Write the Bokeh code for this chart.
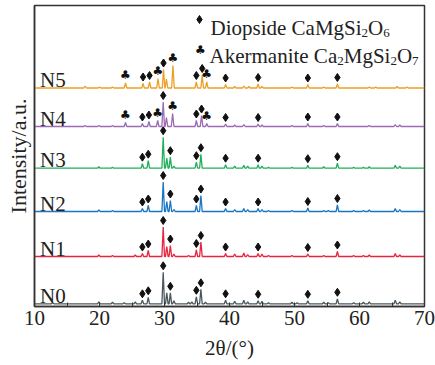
import numpy as np
from bokeh.plotting import figure
from bokeh.models import Range1d, FixedTicker
from bokeh.embed import file_html
from bokeh.resources import INLINE
from bokeh.core.properties import value

# ---------------- data ----------------
names = ["N0", "N1", "N2", "N3", "N4", "N5"]
offsets = [2.7, 50.0, 95.0, 138.3, 180.0, 218.5]
colors = ["#4a575c", "#e8253f", "#1b75c2", "#22ad5c", "#9b6bb5", "#eba128"]

n0_pos = [12.8, 19.9, 22.0, 23.8, 25.5, 26.6, 27.5, 29.8, 30.35, 30.9, 31.45, 33.7, 34.2, 34.9, 35.6, 36.3,
          39.4, 40.8, 42.2, 42.8, 44.4, 45.0, 46.0, 49.6, 50.4, 52.05, 54.5, 55.2, 56.6, 59.1, 60.6, 61.5, 65.5, 66.2]
n0_h = [1.0, 2.0, 1.5, 1.0, 2.0, 3.5, 6.5, 31.5, 11.0, 11.0, 3.0, 1.5, 2.0, 7.0, 14.5, 1.5,
        3.5, 2.5, 3.5, 2.0, 3.0, 2.5, 1.0, 1.5, 1.0, 3.0, 1.5, 1.0, 5.0, 1.0, 1.5, 2.0, 3.5, 2.0]

n1_pos = [19.9, 22.0, 25.5, 26.6, 27.5, 29.8, 30.35, 30.9, 31.45, 33.7, 34.9, 35.6, 39.4, 40.8, 42.2, 42.8,
          44.4, 45.0, 46.0, 49.6, 52.05, 54.5, 56.6, 59.1, 60.6, 61.5, 65.5, 66.2]
n1_h = [1.5, 1.0, 1.5, 3.0, 6.0, 29.5, 10.0, 11.0, 2.5, 1.0, 6.5, 14.5, 3.0, 2.5, 3.5, 2.0,
        3.0, 2.5, 1.0, 1.0, 2.5, 1.0, 5.0, 1.0, 1.0, 1.5, 3.0, 1.5]

n2_pos = [19.9, 22.0, 26.6, 27.5, 29.8, 30.35, 30.9, 31.45, 34.9, 35.6, 39.4, 40.8, 42.2, 42.8, 44.4, 45.0,
          46.0, 49.6, 52.05, 54.5, 55.2, 56.6, 59.1, 60.6, 61.5, 65.5, 66.2]
n2_h = [1.5, 1.0, 3.0, 6.0, 29.5, 10.0, 11.0, 2.0, 6.0, 16.0, 3.0, 2.0, 3.0, 2.0, 3.0, 2.0,
        1.0, 1.0, 3.5, 1.0, 1.0, 6.5, 1.0, 1.0, 1.5, 3.0, 2.0]

n3_pos = [19.9, 22.0, 26.6, 27.5, 29.8, 30.35, 30.9, 31.45, 34.9, 35.6, 39.4, 40.8, 42.2, 42.8, 44.4, 45.0,
          46.0, 49.6, 52.05, 54.5, 56.6, 59.1, 60.6, 61.5, 65.5, 66.2]
n3_h = [1.5, 1.0, 4.5, 7.5, 31.0, 10.0, 11.0, 2.0, 6.0, 14.0, 3.5, 2.0, 3.0, 2.0, 3.5, 2.0,
        1.0, 1.0, 3.0, 1.5, 5.0, 1.0, 1.0, 1.5, 3.0, 2.0]

n4_pos = [17.8, 19.9, 22.0, 24.0, 26.6, 27.6, 28.95, 29.8, 30.3, 31.25, 34.9, 35.7, 36.5, 39.4, 40.8, 42.2,
          44.4, 45.0, 49.6, 52.05, 54.5, 56.6, 61.5, 65.5, 66.2]
n4_h = [1.0, 1.0, 1.0, 4.0, 3.0, 5.0, 6.0, 24.5, 9.0, 13.0, 6.0, 11.0, 3.0, 2.5, 1.5, 2.0,
        2.5, 1.5, 1.0, 3.0, 1.0, 3.0, 1.0, 2.0, 1.5]

n5_pos = [17.8, 20.0, 22.0, 24.0, 26.7, 27.7, 29.0, 29.85, 30.3, 31.3, 34.9, 35.8, 36.5, 39.4, 40.8, 42.2,
          43.0, 44.4, 45.0, 49.6, 52.05, 54.5, 56.6, 61.5, 62.5, 65.8, 67.3]
n5_h = [2.0, 1.0, 1.0, 5.0, 4.5, 6.0, 9.5, 18.5, 9.0, 22.5, 6.0, 13.0, 6.0, 3.5, 1.5, 2.0,
        1.5, 4.0, 1.5, 1.0, 3.5, 1.0, 4.0, 1.0, 1.0, 1.5, 1.0]

diop_n0_n3 = [26.6, 27.5, 29.8, 30.9, 34.9, 35.6, 39.4, 44.4, 52.05, 56.6]
diop_n4 = [26.6, 27.6, 29.8, 34.9, 35.7, 39.4, 44.4, 52.05, 56.6]
diop_n5 = [26.7, 27.7, 29.85, 34.9, 35.8, 39.4, 44.4, 52.05, 56.6]
aker_n4 = [24.0, 28.95, 31.25, 36.5]
aker_n5 = [24.0, 29.0, 31.3, 36.5]

x_ticks = [10, 20, 30, 40, 50, 60, 70]
x_minor = [15, 25, 35, 45, 55, 65]

peaks = [(n0_pos, n0_h), (n1_pos, n1_h), (n2_pos, n2_h), (n3_pos, n3_h), (n4_pos, n4_h), (n5_pos, n5_h)]
diop = [diop_n0_n3, diop_n0_n3, diop_n0_n3, diop_n0_n3, diop_n4, diop_n5]
aker = [[], [], [], [], aker_n4, aker_n5]

# ---------------- figure ----------------
W, H = 435, 365
L, R, T, B = 34, 11, 5, 59
XMIN, XMAX = 10, 70
YMAX = H - T - B
sx = (W - L - R) / (XMAX - XMIN)
SERIF_CSS = "'Liberation Serif', 'Times New Roman', serif"


def px2x(px):
    return XMIN + (px - L) / sx


def py2y(py):
    return (H - B) - py


p = figure(width=W, height=H, output_backend="svg", toolbar_location=None,
           x_range=Range1d(XMIN, XMAX), y_range=Range1d(0, YMAX),
           min_border_left=L, min_border_right=R,
           min_border_top=T, min_border_bottom=B)
p.xgrid.visible = False
p.ygrid.visible = False
p.outline_line_color = "#333333"
p.outline_line_width = 1.5
p.background_fill_color = "white"
p.border_fill_color = "white"

ax = p.xaxis[0]
ax.ticker = FixedTicker(ticks=x_ticks, minor_ticks=x_minor)
ax.axis_line_color = "#333333"
ax.axis_line_width = 1.5
ax.major_tick_in = 4
ax.major_tick_out = 0
ax.minor_tick_in = 4
ax.minor_tick_out = 0
ax.major_tick_line_color = "#333333"
ax.minor_tick_line_color = "#333333"
ax.major_label_text_font = SERIF_CSS
ax.major_label_text_font_size = "21px"
ax.major_label_text_color = "#222222"
ax.major_label_standoff = 4
ax.axis_label = "2\u03b8/(\u00b0)"
ax.axis_label_text_font = SERIF_CSS
ax.axis_label_text_font_size = "21px"
ax.axis_label_text_font_style = "normal"
ax.axis_label_text_color = "#222222"
ax.axis_label_standoff = 8

ay = p.yaxis[0]
ay.ticker = FixedTicker(ticks=[])
ay.axis_line_color = "#333333"
ay.axis_line_width = 1.5
ay.major_tick_in = 0
ay.major_tick_out = 0
ay.minor_tick_in = 0
ay.minor_tick_out = 0
ay.major_label_standoff = 0
ay.axis_label = "Intensity/a.u."
ay.axis_label_text_font = SERIF_CSS
ay.axis_label_text_font_size = "22px"
ay.axis_label_text_font_style = "normal"
ay.axis_label_text_color = "#222222"
ay.axis_label_standoff = 4

SERIF = value("Liberation Serif")
HW = 0.2


def build(pos, h):
    knots = sorted(set([float(XMIN), float(XMAX)] + [q + d for q in pos for d in (-HW, 0.0, HW)]))
    xs = np.array(knots)
    ys = np.zeros_like(xs)
    for q, hh in zip(pos, h):
        ys += hh * np.clip(1 - np.abs(xs - q) / HW, 0, None)
    return xs, ys


for i in range(6):
    xs, ys = build(*peaks[i])
    p.line(xs, ys + offsets[i], line_color=colors[i], line_width=1.3)
    dx = np.array(diop[i])
    dy = np.interp(dx, xs, ys) + offsets[i] + 6.5
    p.scatter(dx, dy, marker="diamond", size=8, fill_color="#111111", line_color="#111111")
    if aker[i]:
        cx = np.array(aker[i])
        cy = np.interp(cx, xs, ys) + offsets[i] + 8
        p.text(cx, cy, text=["\u2663"] * len(cx), text_font=value("DejaVu Sans"), text_font_size="12px",
               text_align="center", text_baseline="middle", text_color="#111111")
    p.text([px2x(39.5)], [offsets[i] + 8], text=[names[i]], text_font=SERIF, text_font_size="21px",
           text_align="left", text_baseline="alphabetic", text_color="#222222")

# ---------------- legend ----------------
F, S = 21, 13
p.scatter([px2x(199)], [py2y(19)], marker="diamond", size=8, fill_color="#111111", line_color="#111111")
p.text([px2x(200)], [py2y(49)], text=["\u2663"], text_font=value("DejaVu Sans"), text_font_size="12px",
       text_align="center", text_baseline="middle", text_color="#111111")


def write_pieces(x0, base_py, pieces):
    x = x0
    for txt, sub, wem in pieces:
        size = S if sub else F
        yb = py2y(base_py + (5 if sub else 0))
        p.text([px2x(x)], [yb], text=[txt], text_font=SERIF, text_font_size=f"{size}px",
               text_align="left", text_baseline="alphabetic", text_color="#222222")
        x += wem * size


write_pieces(210, 27.5, [("Diopside CaMgSi", False, 7.195), ("2", True, 0.5), ("O", False, 0.722), ("6", True, 0.5)])
write_pieces(209, 55, [("Akermanite Ca", False, 6.082), ("2", True, 0.5), ("MgSi", False, 2.223),
                       ("2", True, 0.5), ("O", False, 0.722), ("7", True, 0.5)])

open("out.html", "w").write(file_html(p, INLINE))
